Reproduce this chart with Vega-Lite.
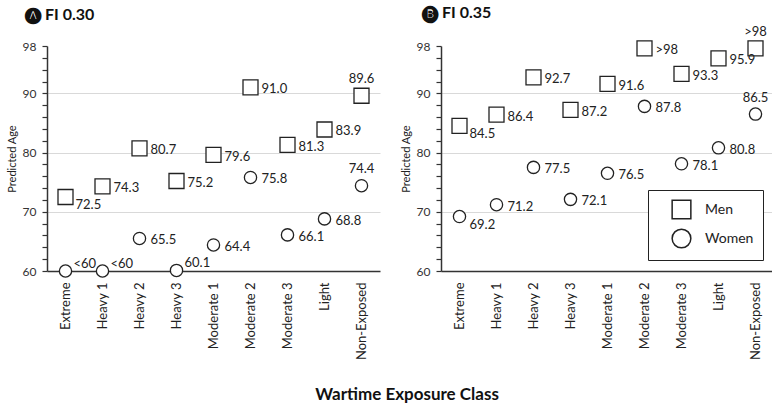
{
  "$schema": "https://vega.github.io/schema/vega-lite/v6.json",
  "padding": {"left": 6, "top": 5, "right": 0, "bottom": 2},
  "background": "white",
  "datasets": {
    "ages": [
      {"panel": "A", "cls": "Extreme", "sex": "Men", "age": 72.5, "label": "72.5"},
      {"panel": "A", "cls": "Heavy 1", "sex": "Men", "age": 74.3, "label": "74.3"},
      {"panel": "A", "cls": "Heavy 2", "sex": "Men", "age": 80.7, "label": "80.7"},
      {"panel": "A", "cls": "Heavy 3", "sex": "Men", "age": 75.2, "label": "75.2"},
      {"panel": "A", "cls": "Moderate 1", "sex": "Men", "age": 79.6, "label": "79.6"},
      {"panel": "A", "cls": "Moderate 2", "sex": "Men", "age": 91.0, "label": "91.0"},
      {"panel": "A", "cls": "Moderate 3", "sex": "Men", "age": 81.3, "label": "81.3"},
      {"panel": "A", "cls": "Light", "sex": "Men", "age": 83.9, "label": "83.9"},
      {"panel": "A", "cls": "Non-Exposed", "sex": "Men", "age": 89.6, "label": "89.6"},
      {"panel": "A", "cls": "Extreme", "sex": "Women", "age": 60, "label": "<60"},
      {"panel": "A", "cls": "Heavy 1", "sex": "Women", "age": 60, "label": "<60"},
      {"panel": "A", "cls": "Heavy 2", "sex": "Women", "age": 65.5, "label": "65.5"},
      {"panel": "A", "cls": "Heavy 3", "sex": "Women", "age": 60.1, "label": "60.1"},
      {"panel": "A", "cls": "Moderate 1", "sex": "Women", "age": 64.4, "label": "64.4"},
      {"panel": "A", "cls": "Moderate 2", "sex": "Women", "age": 75.8, "label": "75.8"},
      {"panel": "A", "cls": "Moderate 3", "sex": "Women", "age": 66.1, "label": "66.1"},
      {"panel": "A", "cls": "Light", "sex": "Women", "age": 68.8, "label": "68.8"},
      {"panel": "A", "cls": "Non-Exposed", "sex": "Women", "age": 74.4, "label": "74.4"},
      {"panel": "B", "cls": "Extreme", "sex": "Men", "age": 84.5, "label": "84.5"},
      {"panel": "B", "cls": "Heavy 1", "sex": "Men", "age": 86.4, "label": "86.4"},
      {"panel": "B", "cls": "Heavy 2", "sex": "Men", "age": 92.7, "label": "92.7"},
      {"panel": "B", "cls": "Heavy 3", "sex": "Men", "age": 87.2, "label": "87.2"},
      {"panel": "B", "cls": "Moderate 1", "sex": "Men", "age": 91.6, "label": "91.6"},
      {"panel": "B", "cls": "Moderate 2", "sex": "Men", "age": 97.6, "label": ">98"},
      {"panel": "B", "cls": "Moderate 3", "sex": "Men", "age": 93.3, "label": "93.3"},
      {"panel": "B", "cls": "Light", "sex": "Men", "age": 95.9, "label": "95.9"},
      {"panel": "B", "cls": "Non-Exposed", "sex": "Men", "age": 97.6, "label": ">98"},
      {"panel": "B", "cls": "Extreme", "sex": "Women", "age": 69.2, "label": "69.2"},
      {"panel": "B", "cls": "Heavy 1", "sex": "Women", "age": 71.2, "label": "71.2"},
      {"panel": "B", "cls": "Heavy 2", "sex": "Women", "age": 77.5, "label": "77.5"},
      {"panel": "B", "cls": "Heavy 3", "sex": "Women", "age": 72.1, "label": "72.1"},
      {"panel": "B", "cls": "Moderate 1", "sex": "Women", "age": 76.5, "label": "76.5"},
      {"panel": "B", "cls": "Moderate 2", "sex": "Women", "age": 87.8, "label": "87.8"},
      {"panel": "B", "cls": "Moderate 3", "sex": "Women", "age": 78.1, "label": "78.1"},
      {"panel": "B", "cls": "Light", "sex": "Women", "age": 80.8, "label": "80.8"},
      {"panel": "B", "cls": "Non-Exposed", "sex": "Women", "age": 86.5, "label": "86.5"}
    ]
  },
  "title": {
    "text": "Wartime Exposure Class",
    "orient": "bottom",
    "anchor": "middle",
    "fontSize": 17,
    "fontWeight": "bold",
    "font": "Lato",
    "color": "#111",
    "offset": 27,
    "dx": 17
  },
  "spacing": 20,
  "resolve": {"scale": {"shape": "independent"}, "legend": {"shape": "independent"}},
  "hconcat": [
    {
      "width": 333,
      "height": 225,
      "data": {"name": "ages"},
      "transform": [{"filter": "datum.panel == 'A'"}],
      "title": {"text": "🅐  FI 0.30", "frame": "bounds", "dx": 19, "offset": 17},
      "encoding": {
        "x": {
          "field": "cls",
          "type": "nominal",
          "sort": ["Extreme", "Heavy 1", "Heavy 2", "Heavy 3", "Moderate 1", "Moderate 2", "Moderate 3", "Light", "Non-Exposed"],
          "scale": {"type": "point", "padding": 0.5},
          "title": null
        },
        "y": {
          "field": "age",
          "type": "quantitative",
          "scale": {"domain": [60, 98], "nice": false, "zero": false},
          "title": "Predicted Age",
          "axis": {
            "values": [60, 62, 64, 66, 68, 70, 72, 74, 76, 78, 80, 82, 84, 86, 88, 90, 92, 94, 96, 98],
            "labelExpr": "datum.value % 10 == 0 || datum.value == 98 ? datum.label : ''",
            "gridOpacity": {"condition": {"test": "datum.value == 70 || datum.value == 80 || datum.value == 90", "value": 1}, "value": 0}
          }
        }
      },
      "layer": [
        {
          "mark": {"type": "point", "filled": true, "fill": "white", "stroke": "#222", "strokeWidth": 1.3, "opacity": 1},
          "encoding": {
            "shape": {"field": "sex", "type": "nominal", "scale": {"domain": ["Men", "Women"], "range": ["square", "circle"]}, "legend": null},
            "size": {"condition": {"test": "datum.sex == 'Men'", "value": 225}, "value": 150}
          }
        },
        {
          "transform": [{"filter": "datum.cls != 'Extreme' && datum.cls != 'Non-Exposed' && datum.age >= 61"}],
          "mark": {"type": "text", "align": "left", "baseline": "middle", "dx": 11, "dy": 2},
          "encoding": {"text": {"field": "label"}}
        },
        {
          "transform": [{"filter": "datum.cls == 'Extreme' && datum.age >= 61"}],
          "mark": {"type": "text", "align": "left", "baseline": "middle", "dx": 10, "dy": 8},
          "encoding": {"text": {"field": "label"}}
        },
        {
          "transform": [{"filter": "datum.cls == 'Non-Exposed'"}],
          "mark": {"type": "text", "align": "center", "baseline": "middle", "dy": -17},
          "encoding": {"text": {"field": "label"}}
        },
        {
          "transform": [{"filter": "datum.age < 61"}],
          "mark": {"type": "text", "align": "left", "baseline": "middle", "dx": 8, "dy": -7},
          "encoding": {"text": {"field": "label"}}
        }
      ]
    },
    {
      "width": 333,
      "height": 225,
      "data": {"name": "ages"},
      "transform": [{"filter": "datum.panel == 'B'"}],
      "title": {"text": "🅑  FI 0.35", "frame": "bounds", "dx": 22, "offset": 5},
      "encoding": {
        "x": {
          "field": "cls",
          "type": "nominal",
          "sort": ["Extreme", "Heavy 1", "Heavy 2", "Heavy 3", "Moderate 1", "Moderate 2", "Moderate 3", "Light", "Non-Exposed"],
          "scale": {"type": "point", "padding": 0.5},
          "title": null
        },
        "y": {
          "field": "age",
          "type": "quantitative",
          "scale": {"domain": [60, 98], "nice": false, "zero": false},
          "title": "Predicted Age",
          "axis": {
            "values": [60, 62, 64, 66, 68, 70, 72, 74, 76, 78, 80, 82, 84, 86, 88, 90, 92, 94, 96, 98],
            "labelExpr": "datum.value % 10 == 0 || datum.value == 98 ? datum.label : ''",
            "gridOpacity": {"condition": {"test": "datum.value == 70 || datum.value == 80 || datum.value == 90", "value": 1}, "value": 0}
          }
        }
      },
      "layer": [
        {
          "mark": {"type": "point", "filled": true, "fill": "white", "stroke": "#222", "strokeWidth": 1.3, "opacity": 1},
          "encoding": {
            "shape": {
              "field": "sex",
              "type": "nominal",
              "scale": {"domain": ["Men", "Women"], "range": ["square", "circle"]},
              "legend": {
                "title": null,
                "orient": "bottom-right",
                "offset": 11,
                "padding": 9,
                "symbolOffset": 14,
                "strokeColor": "#222",
                "fillColor": "white",
                "symbolSize": 350,
                "labelFontSize": 14,
                "labelFont": "Lato",
                "labelColor": "#222",
                "labelOffset": 13,
                "rowPadding": 4,
                "encode": {
                  "symbols": {
                    "update": {
                      "fill": {"value": "white"},
                      "stroke": {"value": "#222"},
                      "strokeWidth": {"value": 1.3},
                      "opacity": {"value": 1}
                    }
                  }
                }
              }
            },
            "size": {"condition": {"test": "datum.sex == 'Men'", "value": 225}, "value": 150}
          }
        },
        {
          "transform": [{"filter": "datum.cls != 'Extreme' && datum.cls != 'Non-Exposed' && datum.age >= 61"}],
          "mark": {"type": "text", "align": "left", "baseline": "middle", "dx": 11, "dy": 2},
          "encoding": {"text": {"field": "label"}}
        },
        {
          "transform": [{"filter": "datum.cls == 'Extreme' && datum.age >= 61"}],
          "mark": {"type": "text", "align": "left", "baseline": "middle", "dx": 10, "dy": 8},
          "encoding": {"text": {"field": "label"}}
        },
        {
          "transform": [{"filter": "datum.cls == 'Non-Exposed'"}],
          "mark": {"type": "text", "align": "center", "baseline": "middle", "dy": -16},
          "encoding": {"text": {"field": "label"}}
        }
      ]
    }
  ],
  "config": {
    "font": "Lato",
    "view": {"stroke": null},
    "text": {"fontSize": 13, "color": "#222", "font": "Lato"},
    "title": {
      "anchor": "start",
      "fontSize": 16,
      "fontWeight": "bold",
      "font": "Lato, DejaVu Sans, Noto Sans",
      "color": "#111"
    },
    "axisX": {
      "ticks": false,
      "grid": false,
      "labelAngle": -90,
      "labelPadding": 11,
      "labelFontSize": 13,
      "labelColor": "#222",
      "domainColor": "#333",
      "domainWidth": 1.5
    },
    "axisY": {
      "labelOverlap": false,
      "labelFlush": false,
      "tickSize": 5,
      "tickColor": "#333",
      "tickWidth": 1.2,
      "labelPadding": 6,
      "labelFontSize": 12,
      "labelColor": "#333",
      "domainColor": "#333",
      "domainWidth": 1.5,
      "grid": true,
      "gridColor": "#d9d9d9",
      "titleFontSize": 11,
      "titleFontWeight": "normal",
      "titleColor": "#222",
      "titlePadding": 5
    }
  }
}
